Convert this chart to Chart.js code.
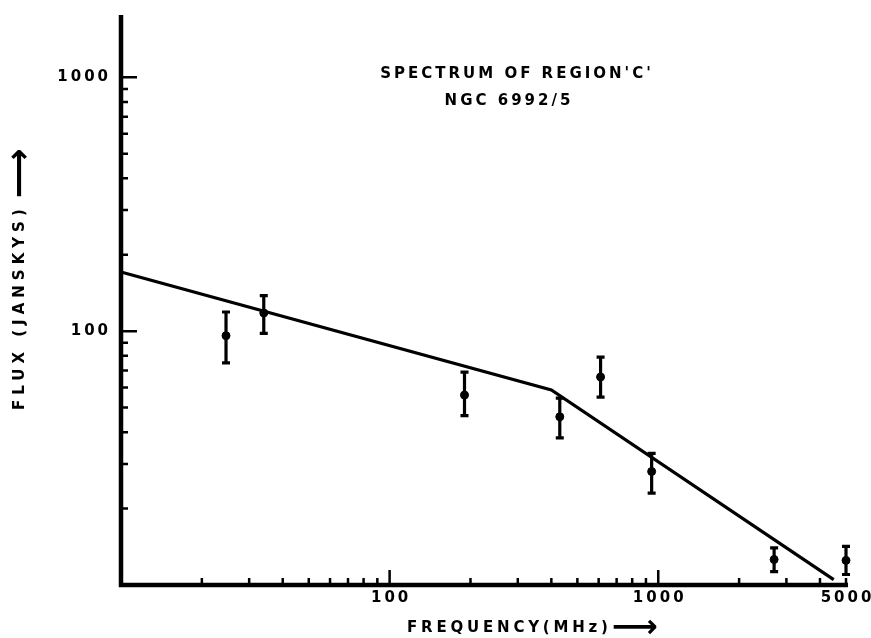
<!DOCTYPE html>
<html>
<head>
<meta charset="utf-8">
<script src="https://cdn.jsdelivr.net/npm/chart.js@4.4.1/dist/chart.umd.min.js"></script>
<style>
  html, body { margin: 0; padding: 0; background: #fff; }
  #wrap { width: 871px; height: 638px; position: relative; }
</style>
</head>
<body>
<div id="wrap"><canvas id="c"></canvas></div>
<script>
// ---- Data ----
const freqMHz  = [24.6, 34, 190, 430, 610, 945, 2700, 5000];
const fluxJy   = [96, 118, 56, 46, 66, 28, 12.6, 12.5];
const fluxHigh = [119, 138, 69, 54.5, 79, 33, 14, 14.2];
const fluxLow  = [75, 98, 46.5, 38, 55, 23, 11.3, 11];

const fitFreq = [10, 400, 4500];
const fitFlux = [171, 58.7, 10.5];

const xTickLabels = [100, 1000, 5000];
const xMinorTicks = [20, 30, 40, 50, 60, 70, 80, 90, 200, 300, 400, 500, 600, 700, 800, 900, 2000, 3000, 4000];
const yTickLabels = [100, 1000];
const yMinorTicks = [20, 30, 40, 50, 60, 70, 80, 90, 200, 300, 400, 500, 600, 700, 800, 900];

const titleLines = ["SPECTRUM OF REGION'C'", "NGC 6992/5"];
const xTitle = "FREQUENCY(MHz)";
const yTitle = "FLUX (JANSKYS)";
const arrowGlyph = "\u27F6";

const FONT = '"DejaVu Sans", "Liberation Sans", sans-serif';

function drawArrow(ctx, x, y, targetW) {
  ctx.save();
  ctx.letterSpacing = '0px';
  ctx.font = 'bold 20px ' + FONT;
  const w = ctx.measureText(arrowGlyph).width || 20;
  const size = 20 * targetW / w;
  ctx.font = 'bold ' + size.toFixed(1) + 'px ' + FONT;
  ctx.textAlign = 'left';
  ctx.textBaseline = 'middle';
  ctx.fillText(arrowGlyph, x, y);
  ctx.restore();
}

const paperPlugin = {
  id: 'paper',
  afterDatasetsDraw(chart) {
    const ctx = chart.ctx;
    const xs = chart.scales.x, ys = chart.scales.y;
    const a = chart.chartArea;
    ctx.save();
    ctx.strokeStyle = '#000';
    ctx.fillStyle = '#000';
    ctx.lineCap = 'butt';

    // error bars
    ctx.lineWidth = 3.2;
    for (let i = 0; i < freqMHz.length; i++) {
      const px = xs.getPixelForValue(freqMHz[i]);
      const top = ys.getPixelForValue(fluxHigh[i]);
      const bot = ys.getPixelForValue(fluxLow[i]);
      ctx.beginPath();
      ctx.moveTo(px, top); ctx.lineTo(px, bot);
      ctx.moveTo(px - 4, top); ctx.lineTo(px + 4, top);
      ctx.moveTo(px - 4, bot); ctx.lineTo(px + 4, bot);
      ctx.stroke();
    }

    // axes
    ctx.lineWidth = 4.5;
    ctx.beginPath();
    ctx.moveTo(a.left, a.top);
    ctx.lineTo(a.left, a.bottom);
    ctx.lineTo(a.right + 2, a.bottom);
    ctx.stroke();

    // ticks (drawn inward)
    ctx.lineWidth = 2.5;
    ctx.beginPath();
    xMinorTicks.forEach(v => {
      const p = xs.getPixelForValue(v);
      ctx.moveTo(p, a.bottom); ctx.lineTo(p, a.bottom - 7);
    });
    xTickLabels.forEach(v => {
      const p = xs.getPixelForValue(v);
      ctx.moveTo(p, a.bottom); ctx.lineTo(p, a.bottom - (v === 5000 ? 7 : 15));
    });
    yMinorTicks.forEach(v => {
      const p = ys.getPixelForValue(v);
      ctx.moveTo(a.left, p); ctx.lineTo(a.left + 7, p);
    });
    yTickLabels.forEach(v => {
      const p = ys.getPixelForValue(v);
      ctx.moveTo(a.left, p); ctx.lineTo(a.left + 16, p);
    });
    ctx.stroke();

    // tick labels
    ctx.font = 'bold 15px ' + FONT;
    ctx.letterSpacing = '3px';
    ctx.textBaseline = 'middle';
    ctx.textAlign = 'center';
    xTickLabels.forEach(v => {
      const p = xs.getPixelForValue(v);
      ctx.fillText(String(v), p + 1.5, a.bottom + 13);
    });
    ctx.textAlign = 'right';
    yTickLabels.forEach(v => {
      const p = ys.getPixelForValue(v);
      ctx.fillText(String(v), a.left - 10, p);
    });

    // title inside plot
    ctx.font = 'bold 15px ' + FONT;
    ctx.letterSpacing = '3px';
    ctx.textAlign = 'center';
    ctx.textBaseline = 'alphabetic';
    ctx.fillText(titleLines[0], 517, 78);
    ctx.fillText(titleLines[1], 509, 105);

    // x title
    ctx.font = 'bold 15px ' + FONT;
    ctx.letterSpacing = '3.8px';
    ctx.textAlign = 'left';
    ctx.textBaseline = 'middle';
    ctx.fillText(xTitle, 407, 628);
    const xw = ctx.measureText(xTitle).width;
    drawArrow(ctx, 407 + xw, 629, 46);

    // y title (rotated)
    ctx.translate(20, 410);
    ctx.rotate(-Math.PI / 2);
    ctx.font = 'bold 15px ' + FONT;
    ctx.letterSpacing = '5px';
    ctx.textAlign = 'left';
    ctx.textBaseline = 'middle';
    ctx.fillText(yTitle, 0, 0);
    const yw = ctx.measureText(yTitle).width;
    drawArrow(ctx, yw + 6, 1, 50);
    ctx.restore();
  }
};

new Chart(document.getElementById('c'), {
  type: 'scatter',
  data: {
    datasets: [
      {
        label: 'Fit',
        data: fitFreq.map((x, i) => ({ x: x, y: fitFlux[i] })),
        showLine: true,
        borderColor: '#000',
        borderWidth: 3.2,
        pointRadius: 0,
        tension: 0,
        clip: false
      },
      {
        label: 'Measured',
        data: freqMHz.map((x, i) => ({ x: x, y: fluxJy[i] })),
        showLine: false,
        pointRadius: 4,
        backgroundColor: '#000',
        borderColor: '#000',
        clip: false
      }
    ]
  },
  options: {
    responsive: true,
    maintainAspectRatio: false,
    animation: false,
    layout: { padding: { left: 121, top: 15, right: 25, bottom: 53 } },
    plugins: { legend: { display: false }, tooltip: { enabled: false }, title: { display: false } },
    scales: {
      x: { type: 'logarithmic', min: 10, max: 5000, display: false },
      y: { type: 'logarithmic', min: 10, max: 1760, display: false }
    }
  },
  plugins: [paperPlugin]
});
</script>
</body>
</html>
